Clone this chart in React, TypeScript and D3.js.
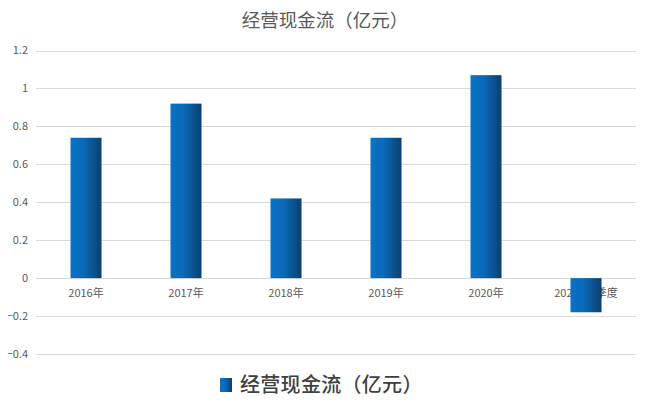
import { useRef, useEffect } from "react";
import * as d3 from "d3";

const categories = ["2016年", "2017年", "2018年", "2019年", "2020年", "2021年3季度"];
const cashFlow = [0.74, 0.92, 0.42, 0.74, 1.07, -0.18];
const yTicks = [-0.4, -0.2, 0, 0.2, 0.4, 0.6, 0.8, 1, 1.2];
const titleText = "经营现金流（亿元）";
const seriesName = "经营现金流（亿元）";

const FONT = "'Noto Sans CJK SC', 'Noto Sans', sans-serif";

const App = () => {
  const chartRef = useRef(null);

  useEffect(() => {
    const el = chartRef.current;
    const width = 650;
    const height = 419;
    const left = 36;
    const right = 636;

    const svg = d3
      .select(el)
      .append("svg")
      .attr("width", width)
      .attr("height", height)
      .style("display", "block")
      .style("font-family", FONT);

    const defs = svg.append("defs");
    const grad = defs
      .append("linearGradient")
      .attr("id", "barGrad")
      .attr("x1", "0%")
      .attr("x2", "100%")
      .attr("y1", "0%")
      .attr("y2", "0%");
    grad.append("stop").attr("offset", "0%").attr("stop-color", "#0873c9");
    grad.append("stop").attr("offset", "45%").attr("stop-color", "#0a68b6");
    grad.append("stop").attr("offset", "100%").attr("stop-color", "#0a3f6e");

    svg.append("rect").attr("width", width).attr("height", height).attr("fill", "#fff");

    // chart frame and the sheet cells under it
    svg
      .append("rect")
      .attr("x", 0.5)
      .attr("y", 0.5)
      .attr("width", width + 20)
      .attr("height", 416)
      .attr("fill", "none")
      .attr("stroke", "#d9d9d9");
    d3.range(15, width, 72.2).forEach(x => {
      svg
        .append("line")
        .attr("x1", Math.round(x) + 0.5)
        .attr("x2", Math.round(x) + 0.5)
        .attr("y1", 417)
        .attr("y2", height)
        .attr("stroke", "#d0d0d0");
    });

    const x = d3.scaleBand<string>().domain(categories).range([left, right]).paddingInner(0.69).paddingOuter(0.345);
    const xCenter = d3.scaleBand<string>().domain(categories).range([left, right]);
    const y = d3.scaleLinear().domain([-0.4, 1.2]).range([354, 50.5]);

    const grid = svg.append("g");
    yTicks.forEach(t => {
      grid
        .append("line")
        .attr("x1", left)
        .attr("x2", right)
        .attr("y1", Math.round(y(t)) + 0.5)
        .attr("y2", Math.round(y(t)) + 0.5)
        .attr("stroke", "#d9d9d9");
      grid
        .append("text")
        .attr("x", 28)
        .attr("y", y(t))
        .attr("dy", "0.35em")
        .attr("text-anchor", "end")
        .attr("font-size", 11)
        .attr("fill", "#595959")
        .text(d3.format("~g")(t));
    });

    svg
      .append("g")
      .selectAll("text")
      .data(categories)
      .enter()
      .append("text")
      .attr("x", d => (xCenter(d) as number) + xCenter.bandwidth() / 2)
      .attr("y", y(0) + 19)
      .attr("text-anchor", "middle")
      .attr("font-size", 11)
      .attr("fill", "#595959")
      .text(d => d);

    svg
      .append("g")
      .selectAll("rect")
      .data(cashFlow)
      .enter()
      .append("rect")
      .attr("x", (_d, i) => x(categories[i]) as number)
      .attr("y", d => y(Math.max(0, d)))
      .attr("width", x.bandwidth())
      .attr("height", d => Math.abs(y(d) - y(0)))
      .attr("fill", "url(#barGrad)");

    svg
      .append("text")
      .attr("x", width / 2)
      .attr("y", 27)
      .attr("text-anchor", "middle")
      .attr("font-size", 18.5)
      .attr("fill", "#595959")
      .text(titleText);

    const legend = svg.append("g").attr("transform", "translate(220, 385)");
    legend
      .append("rect")
      .attr("x", 0)
      .attr("y", -7)
      .attr("width", 12)
      .attr("height", 14)
      .attr("fill", "url(#barGrad)");
    legend
      .append("text")
      .attr("x", 20)
      .attr("y", 0)
      .attr("dy", "0.36em")
      .attr("font-size", 20)
      .attr("letter-spacing", 0.3)
      .attr("font-weight", 500)
      .attr("fill", "#404040")
      .text(seriesName);

    return () => {
      d3.select(el).select("svg").remove();
    };
  }, []);

  return <div ref={chartRef} style={{ margin: -8 }}></div>;
};

export default App;
